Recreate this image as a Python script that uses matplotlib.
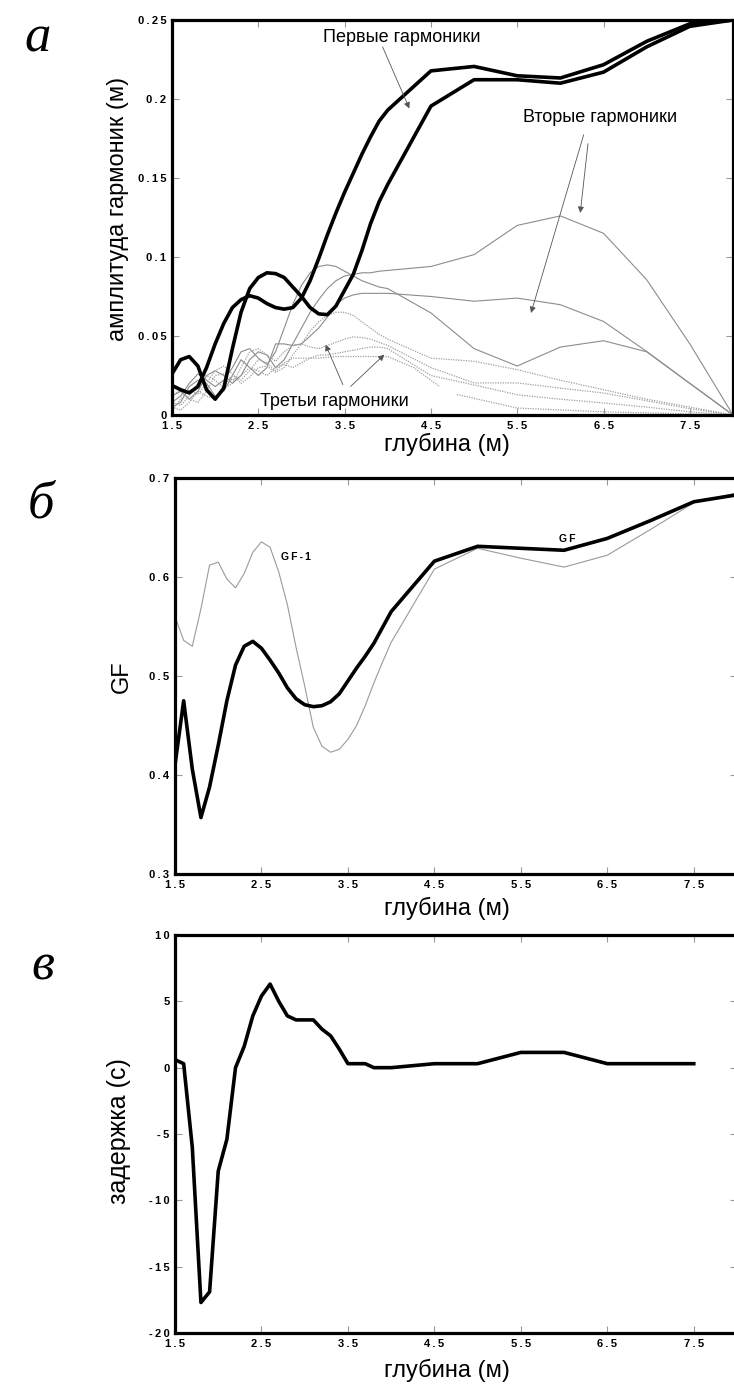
import numpy as np
import matplotlib
matplotlib.use('Agg')
import matplotlib.pyplot as plt

plt.rcParams['font.family'] = ['Liberation Sans', 'DejaVu Sans']

###############################################################################
# Data

x_ticks = [1.5, 2.5, 3.5, 4.5, 5.5, 6.5, 7.5]
x_tick_labels = ['1.5', '2.5', '3.5', '4.5', '5.5', '6.5', '7.5']

# (a) harmonic amplitudes
depth_a = [1.5, 1.6, 1.7, 1.8, 1.9, 2.0, 2.1, 2.2, 2.3, 2.4, 2.5, 2.6, 2.7,
           2.8, 2.9, 3.0, 3.1, 3.2, 3.3, 3.4, 3.5, 3.6, 3.7, 3.8, 3.9, 4.0,
           4.5, 5.0, 5.5, 6.0, 6.5, 7.0, 7.5, 8.0]
first_1 = [0.026, 0.035, 0.037, 0.031, 0.016, 0.010, 0.017, 0.042, 0.065,
           0.080, 0.087, 0.090, 0.0895, 0.087, 0.081, 0.075, 0.068, 0.064,
           0.0635, 0.069, 0.079, 0.089, 0.104, 0.121, 0.135, 0.146,
           0.1955, 0.2122, 0.2122, 0.210, 0.217, 0.233, 0.246, 0.25]
first_2 = [0.0187, 0.016, 0.014, 0.018, 0.030, 0.045, 0.058, 0.068, 0.073,
           0.0755, 0.074, 0.0705, 0.068, 0.067, 0.068, 0.074, 0.085, 0.099,
           0.114, 0.128, 0.141, 0.153, 0.165, 0.176, 0.186, 0.193,
           0.2178, 0.2206, 0.2147, 0.2133, 0.2217, 0.2365, 0.2476, 0.25]
second_1 = [0.012, 0.015, 0.010, 0.015, 0.025, 0.028, 0.025, 0.020, 0.025,
            0.035, 0.040, 0.038, 0.030, 0.035, 0.045, 0.055, 0.065, 0.073,
            0.080, 0.085, 0.088, 0.089, 0.090, 0.090, 0.091, 0.0915,
            0.094, 0.1015, 0.120, 0.126, 0.115, 0.0856, 0.045, 0.0]
second_2 = [0.005, 0.008, 0.018, 0.022, 0.020, 0.012, 0.015, 0.025, 0.035,
            0.030, 0.025, 0.030, 0.045, 0.045, 0.044, 0.045, 0.050, 0.055,
            0.062, 0.070, 0.074, 0.076, 0.077, 0.077, 0.077, 0.077,
            0.075, 0.072, 0.074, 0.0698, 0.0592, 0.0402, 0.020, 0.0]
second_3 = [0.008, 0.012, 0.020, 0.026, 0.022, 0.018, 0.022, 0.030, 0.040,
            0.042, 0.036, 0.032, 0.040, 0.055, 0.070, 0.082, 0.090, 0.094,
            0.095, 0.094, 0.091, 0.088, 0.085, 0.083, 0.081, 0.080,
            0.0646, 0.042, 0.031, 0.043, 0.047, 0.040, 0.020, 0.0]
third_1 = [0.003, 0.010, 0.016, 0.013, 0.020, 0.028, 0.031, 0.026, 0.020,
           0.024, 0.030, 0.031, 0.027, 0.030, 0.038, 0.045, 0.053, 0.059,
           0.063, 0.065, 0.065, 0.063, 0.059, 0.055, 0.051, 0.048,
           0.036, 0.034, 0.0287, 0.022, 0.016, 0.010, 0.005, 0.0]
third_2 = [0.008, 0.006, 0.012, 0.020, 0.025, 0.022, 0.017, 0.020, 0.030,
           0.040, 0.042, 0.038, 0.034, 0.040, 0.044, 0.045, 0.043, 0.042,
           0.044, 0.046, 0.048, 0.0495, 0.049, 0.048, 0.046, 0.044,
           0.030, 0.0203, 0.0203, 0.017, 0.0139, 0.009, 0.004, 0.0]
third_3 = [0.012, 0.016, 0.010, 0.008, 0.015, 0.025, 0.026, 0.022, 0.025,
           0.030, 0.028, 0.025, 0.030, 0.032, 0.030, 0.033, 0.036, 0.038,
           0.038, 0.039, 0.040, 0.041, 0.042, 0.043, 0.043, 0.042,
           0.025, 0.019, 0.0128, 0.010, 0.0076, 0.005, 0.002, 0.0]
depth_t4 = [1.5, 1.6, 1.7, 1.8, 1.9, 2.0, 2.1, 2.2, 2.3, 2.4, 2.5, 2.6, 2.7,
            2.8, 2.9, 3.0, 3.2, 3.4, 3.6, 3.8, 4.0, 4.3, 4.6]
third_4 = [0.005, 0.003, 0.008, 0.015, 0.012, 0.010, 0.018, 0.025, 0.022,
           0.028, 0.035, 0.033, 0.028, 0.033, 0.036, 0.036, 0.036, 0.037,
           0.037, 0.037, 0.037, 0.030, 0.018]
depth_t5 = [4.8, 5.5, 6.5, 8.0]
third_5 = [0.013, 0.0044, 0.002, 0.0]

# (b) GF
depth_b = [1.5, 1.6, 1.7, 1.8, 1.9, 2.0, 2.1, 2.2, 2.3, 2.4, 2.5, 2.6, 2.7,
           2.8, 2.9, 3.0, 3.1, 3.2, 3.3, 3.4, 3.5, 3.6, 3.7, 3.8, 3.9, 4.0,
           4.5, 5.0, 5.5, 6.0, 6.5, 7.0, 7.5, 8.0]
gf = [0.41, 0.475, 0.406, 0.357, 0.388, 0.43, 0.475, 0.511, 0.53, 0.535,
      0.528, 0.516, 0.503, 0.488, 0.477, 0.471, 0.469, 0.470, 0.474, 0.482,
      0.495, 0.508, 0.520, 0.533, 0.549, 0.565,
      0.616, 0.631, 0.629, 0.627, 0.639, 0.657, 0.676, 0.683]
gf_1 = [0.56, 0.536, 0.530, 0.568, 0.612, 0.615, 0.598, 0.589, 0.6035, 0.625,
        0.6355, 0.630, 0.605, 0.572, 0.529, 0.49, 0.448, 0.429, 0.423, 0.426,
        0.436, 0.45, 0.47, 0.493, 0.514, 0.534,
        0.608, 0.629, 0.619, 0.610, 0.622, 0.648, 0.675, 0.685]

# (c) delay
depth_c = [1.5, 1.6, 1.7, 1.8, 1.9, 2.0, 2.1, 2.2, 2.3, 2.4, 2.5, 2.6, 2.7,
           2.8, 2.9, 3.0, 3.1, 3.2, 3.3, 3.4, 3.5, 3.6, 3.7, 3.8, 3.9, 4.0,
           4.5, 5.0, 5.5, 6.0, 6.5, 7.0, 7.5]
delay = [0.6, 0.3, -6.0, -17.7, -16.9, -7.8, -5.4, 0.0, 1.6, 3.9, 5.4, 6.3,
         5.0, 3.9, 3.6, 3.6, 3.6, 2.9, 2.4, 1.4, 0.3, 0.3, 0.3, 0.0, 0.0, 0.0,
         0.3, 0.3, 1.15, 1.15, 0.3, 0.3, 0.3]

a_yticks = [0, 0.05, 0.1, 0.15, 0.2, 0.25]
a_ylabels = ['0', '0.05', '0.1', '0.15', '0.2', '0.25']
b_yticks = [0.3, 0.4, 0.5, 0.6, 0.7]
b_ylabels = ['0.3', '0.4', '0.5', '0.6', '0.7']
c_yticks = [-20, -15, -10, -5, 0, 5, 10]
c_ylabels = ['-20', '-15', '-10', '-5', '0', '5', '10']

###############################################################################
# Figure

W, H = 734, 1393
fig = plt.figure(figsize=(W / 100, H / 100), dpi=100)


def spaced(s):
    return '\u2009'.join(s)


def px_axes(l, r, t, b):
    return fig.add_axes([l / W, 1 - b / H, (r - l) / W, (b - t) / H])


def style(ax, yticks, ylabels, ylim):
    ax.set_xlim(1.5, 8.0)
    ax.set_ylim(*ylim)
    ax.set_xticks(x_ticks)
    ax.set_xticklabels([spaced(t) for t in x_tick_labels])
    ax.set_yticks(yticks)
    ax.set_yticklabels([spaced(t) for t in ylabels])
    for sp in ax.spines.values():
        sp.set_linewidth(2.3)
    ax.tick_params(direction='in', length=5, width=0.8, color='#999999',
                   top=True, right=True, labelsize=8, pad=4)
    for lab in ax.get_xticklabels() + ax.get_yticklabels():
        lab.set_fontweight('bold')


def xlabel(y):
    fig.text(447 / W, 1 - y / H, 'глубина (м)', fontsize=17,
             ha='center', va='center')


def ylabel(x, y, s, size):
    fig.text(x / W, 1 - y / H, s, fontsize=size, rotation=90,
             ha='center', va='center')


def panel_letter(x, y, s):
    fig.text(x / W, 1 - y / H, s, fontsize=38, family='Liberation Serif',
             style='italic', ha='center', va='center')


# ---- (a)
ax = px_axes(172, 733, 20, 415)
thin = dict(color='#8c8c8c', lw=0.8)
dot = dict(color='#a0a0a0', lw=0.9, ls=(0, (1, 1)))
for s in (second_1, second_2, second_3):
    ax.plot(depth_a, s, **thin)
for s in (third_1, third_2, third_3):
    ax.plot(depth_a, s, **dot)
ax.plot(depth_t4, third_4, **dot)
ax.plot(depth_t5, third_5, **dot)
ax.plot(depth_a, first_1, color='k', lw=2.6)
ax.plot(depth_a, first_2, color='k', lw=2.6)
style(ax, a_yticks, a_ylabels, (0, 0.25))

arrow = dict(arrowstyle='-|>', color='#555555', lw=0.6, mutation_scale=9,
             shrinkA=0, shrinkB=0)
ax.text(4.165, 0.239, 'Первые гармоники', fontsize=13, ha='center',
        va='center')
ax.annotate('', xy=(4.25, 0.194), xytext=(3.94, 0.233), arrowprops=arrow)
ax.text(6.46, 0.188, 'Вторые гармоники', fontsize=13, ha='center',
        va='center')
ax.annotate('', xy=(5.66, 0.0646), xytext=(6.27, 0.1774), arrowprops=arrow)
ax.annotate('', xy=(6.23, 0.1279), xytext=(6.32, 0.1717), arrowprops=arrow)
ax.text(3.38, 0.0084, 'Третьи гармоники', fontsize=13, ha='center',
        va='center')
ax.annotate('', xy=(3.28, 0.0445), xytext=(3.48, 0.0192), arrowprops=arrow)
ax.annotate('', xy=(3.96, 0.0382), xytext=(3.57, 0.0181), arrowprops=arrow)

# ---- (b)
ax = px_axes(175, 737, 478, 874)
ax.plot(depth_b, gf_1, color='#9a9a9a', lw=0.8)
ax.plot(depth_b, gf, color='k', lw=2.6)
style(ax, b_yticks, b_ylabels, (0.3, 0.7))
ax.text(2.9, 0.62, spaced('GF-1'), fontsize=7.5, fontweight='bold',
        ha='center', va='center')
ax.text(6.04, 0.638, spaced('GF'), fontsize=7.5, fontweight='bold',
        ha='center', va='center')

# ---- (c)
ax = px_axes(175, 737, 935, 1333)
ax.plot(depth_c, delay, color='k', lw=2.6)
style(ax, c_yticks, c_ylabels, (-20, 10))

xlabel(444)
xlabel(908)
xlabel(1370)
ylabel(118, 209, 'амплитуда гармоник (м)', 17)
ylabel(122, 677, 'GF', 17)
ylabel(119, 1131, 'задержка (с)', 18)
panel_letter(38, 38, 'а')
panel_letter(41, 505, 'б')
panel_letter(43, 966, 'в')

fig.savefig('out.png', dpi=100)
